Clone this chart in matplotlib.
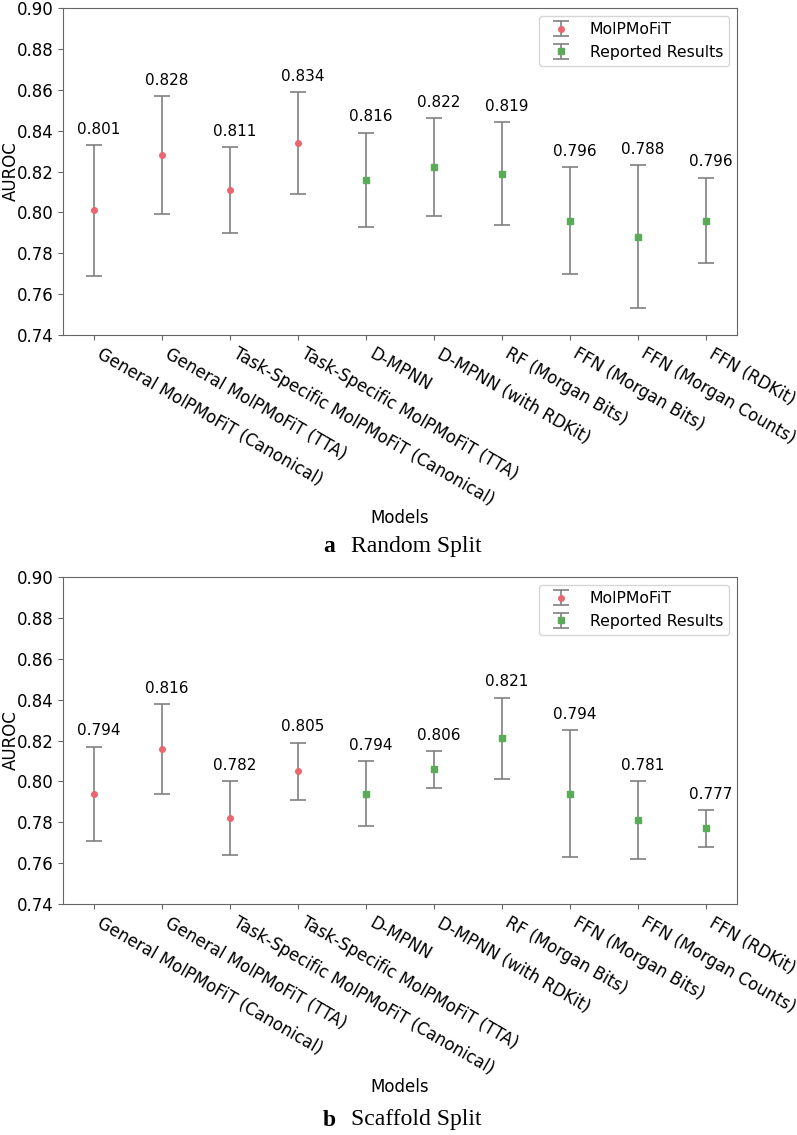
import matplotlib.pyplot as plt
import numpy as np

models = [
    "General MolPMoFiT (Canonical)",
    "General MolPMoFiT (TTA)",
    "Task-Specific MolPMoFiT (Canonical)",
    "Task-Specific MolPMoFiT (TTA)",
    "D-MPNN",
    "D-MPNN (with RDKit)",
    "RF (Morgan Bits)",
    "FFN (Morgan Bits)",
    "FFN (Morgan Counts)",
    "FFN (RDKit)",
]
n_ours = 4  # first four models are MolPMoFiT

random_mean = [0.801, 0.828, 0.811, 0.834, 0.816, 0.822, 0.819, 0.796, 0.788, 0.796]
random_std = [0.032, 0.029, 0.021, 0.025, 0.023, 0.024, 0.025, 0.026, 0.035, 0.021]

scaffold_mean = [0.794, 0.816, 0.782, 0.805, 0.794, 0.806, 0.821, 0.794, 0.781, 0.777]
scaffold_std = [0.023, 0.022, 0.018, 0.014, 0.016, 0.009, 0.020, 0.031, 0.019, 0.009]

RED = "#ea6670"
GREEN = "#5aaa5a"
SPINE = "#666666"


def draw_panel(ax, means, stds):
    x = np.arange(len(models))
    means = np.asarray(means)
    stds = np.asarray(stds)
    ax.errorbar(x[:n_ours], means[:n_ours], yerr=stds[:n_ours], fmt="o",
                color=RED, ms=4, ecolor="grey", elinewidth=1.2, capsize=6,
                capthick=1.2, label="MolPMoFiT")
    ax.errorbar(x[n_ours:], means[n_ours:], yerr=stds[n_ours:], fmt="s",
                color=GREEN, ms=4, ecolor="grey", elinewidth=1.2, capsize=6,
                capthick=1.2, label="Reported Results")
    for xi, m, s in zip(x, means, stds):
        ax.text(xi + 0.07, m + s + 0.004, f"{m:.3f}", ha="center",
                va="bottom", fontsize=11)
    ticks = np.arange(0.74, 0.901, 0.02)
    ax.set_ylim(0.74, 0.90)
    ax.set_yticks(ticks)
    ax.set_yticklabels([f"{v:.2f}" for v in ticks])
    ax.set_xticks(x)
    ax.set_xticklabels(models, rotation=-30, ha="left", fontsize=12)
    ax.tick_params(axis="y", labelsize=12)
    ax.tick_params(color=SPINE)
    for sp in ax.spines.values():
        sp.set_color(SPINE)
    ax.set_xlabel("Models", fontsize=12, labelpad=0)
    ax.set_ylabel("AUROC", fontsize=12)
    ax.yaxis.set_label_coords(-0.064, 0.5)
    ax.legend(loc="upper right", fontsize=11.3)


fig = plt.figure(figsize=(7.97, 11.35), dpi=100)
ax_a = fig.add_axes([63 / 797, 1 - 335 / 1135, 674 / 797, 327 / 1135])
ax_b = fig.add_axes([63 / 797, 1 - 904 / 1135, 674 / 797, 327 / 1135])

draw_panel(ax_a, random_mean, random_std)
draw_panel(ax_b, scaffold_mean, scaffold_std)

serif = ["Liberation Serif", "DejaVu Serif"]
for y, letter, name in [(1 - 546 / 1135, "a", "Random Split"),
                        (1 - 1120 / 1135, "b", "Scaffold Split")]:
    fig.text(0.405, y, letter, family=serif, weight="bold", fontsize=17,
             ha="left", va="center")
    fig.text(0.44, y, name, family=serif, fontsize=17, ha="left", va="center")

fig.savefig("out.png", dpi=100)
